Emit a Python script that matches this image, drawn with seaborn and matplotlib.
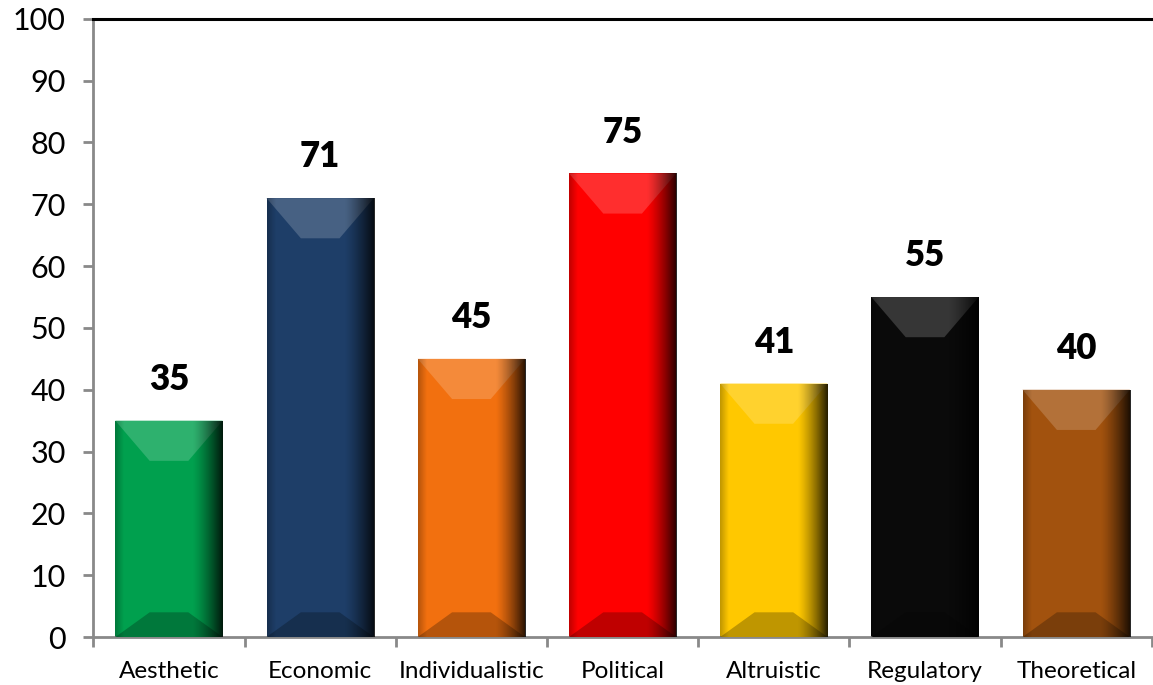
import numpy as np
import pandas as pd
import matplotlib
matplotlib.use("Agg")
import matplotlib.pyplot as plt
import seaborn as sns
from matplotlib.patches import Polygon
from matplotlib.colors import to_rgb

categories = ["Aesthetic", "Economic", "Individualistic", "Political",
              "Altruistic", "Regulatory", "Theoretical"]
values = [35, 71, 45, 75, 41, 55, 40]
colors = ["#00A04E", "#1E3E68", "#F2700F", "#FF0000", "#FFC800", "#0A0A0A", "#A2520E"]
y_ticks = [0, 10, 20, 30, 40, 50, 60, 70, 80, 90, 100]

sns.set_theme(style="white")
plt.rcParams['font.family'] = ['Lato', 'DejaVu Sans']

fig = plt.figure(figsize=(11.53, 6.85), dpi=100)
ax = fig.add_axes([0.081, 0.070, 0.918, 0.9025])

df = pd.DataFrame({"cat": categories, "val": values})
sns.barplot(data=df, x="cat", y="val", hue="cat", palette=colors,
            legend=False, width=0.71, ax=ax, saturation=1, edgecolor="none")

ax.set_ylim(0, 100)
ax.set_xlim(-0.5, len(categories) - 0.5)
ax.set_yticks(y_ticks)
ax.set_xlabel("")
ax.set_ylabel("")

def lighten(c, f):
    r = np.array(to_rgb(c))
    return tuple(r + (1 - r) * f)

def darken(c, f):
    r = np.array(to_rgb(c))
    return tuple(r * (1 - f))

# bevel effects derived from each bar's geometry
for p, col, v in zip(ax.patches, colors, values):
    x0 = p.get_x(); w = p.get_width(); h = p.get_height()
    x1 = x0 + w
    inset = w * 0.32
    bh = 6.5
    top = Polygon([(x0, h), (x1, h), (x1 - inset, h - bh), (x0 + inset, h - bh)],
                  closed=True, facecolor=lighten(col, 0.18), edgecolor="none", zorder=3)
    ax.add_patch(top)
    bot = Polygon([(x0, 0), (x1, 0), (x1 - inset, 4.0), (x0 + inset, 4.0)],
                  closed=True, facecolor=darken(col, 0.25), edgecolor="none", zorder=3)
    ax.add_patch(bot)
    n = 200
    xs = np.linspace(0, 1, n)
    alpha = np.clip((xs - 0.72) / 0.28, 0, 1) ** 1.3 * 0.85 + np.clip((0.08 - xs) / 0.08, 0, 1) * 0.25
    img = np.zeros((2, n, 4))
    img[..., 3] = alpha
    im = ax.imshow(img, extent=[x0, x1, 0, h], aspect="auto", zorder=4,
                   interpolation="bilinear")
    im.set_clip_path(p)
    ax.text(x0 + w / 2, h + 4.0, str(v), ha="center", va="bottom",
            fontsize=25, fontweight="heavy", color="black", zorder=5)

for s in ["left", "bottom"]:
    ax.spines[s].set_color("#898989")
    ax.spines[s].set_linewidth(2)
ax.spines["top"].set_color("black")
ax.spines["top"].set_linewidth(2.2)
ax.spines["right"].set_visible(False)

ax.tick_params(axis="y", which="major", length=7, width=2, color="#898989",
               direction="out", labelsize=22, pad=13, left=True, labelcolor="black")
ax.tick_params(axis="x", which="major", length=0, labelsize=17.5, pad=17,
               labelcolor="black")
ax.set_xticks(np.arange(-0.5, len(categories) - 0.4, 1.0), minor=True)
ax.tick_params(axis="x", which="minor", length=7, width=2, color="#898989",
               direction="out", bottom=True)
ax.set_xticks(range(len(categories)))
ax.set_xticklabels(categories)
ax.grid(False)

fig.savefig("out.png", dpi=100)
